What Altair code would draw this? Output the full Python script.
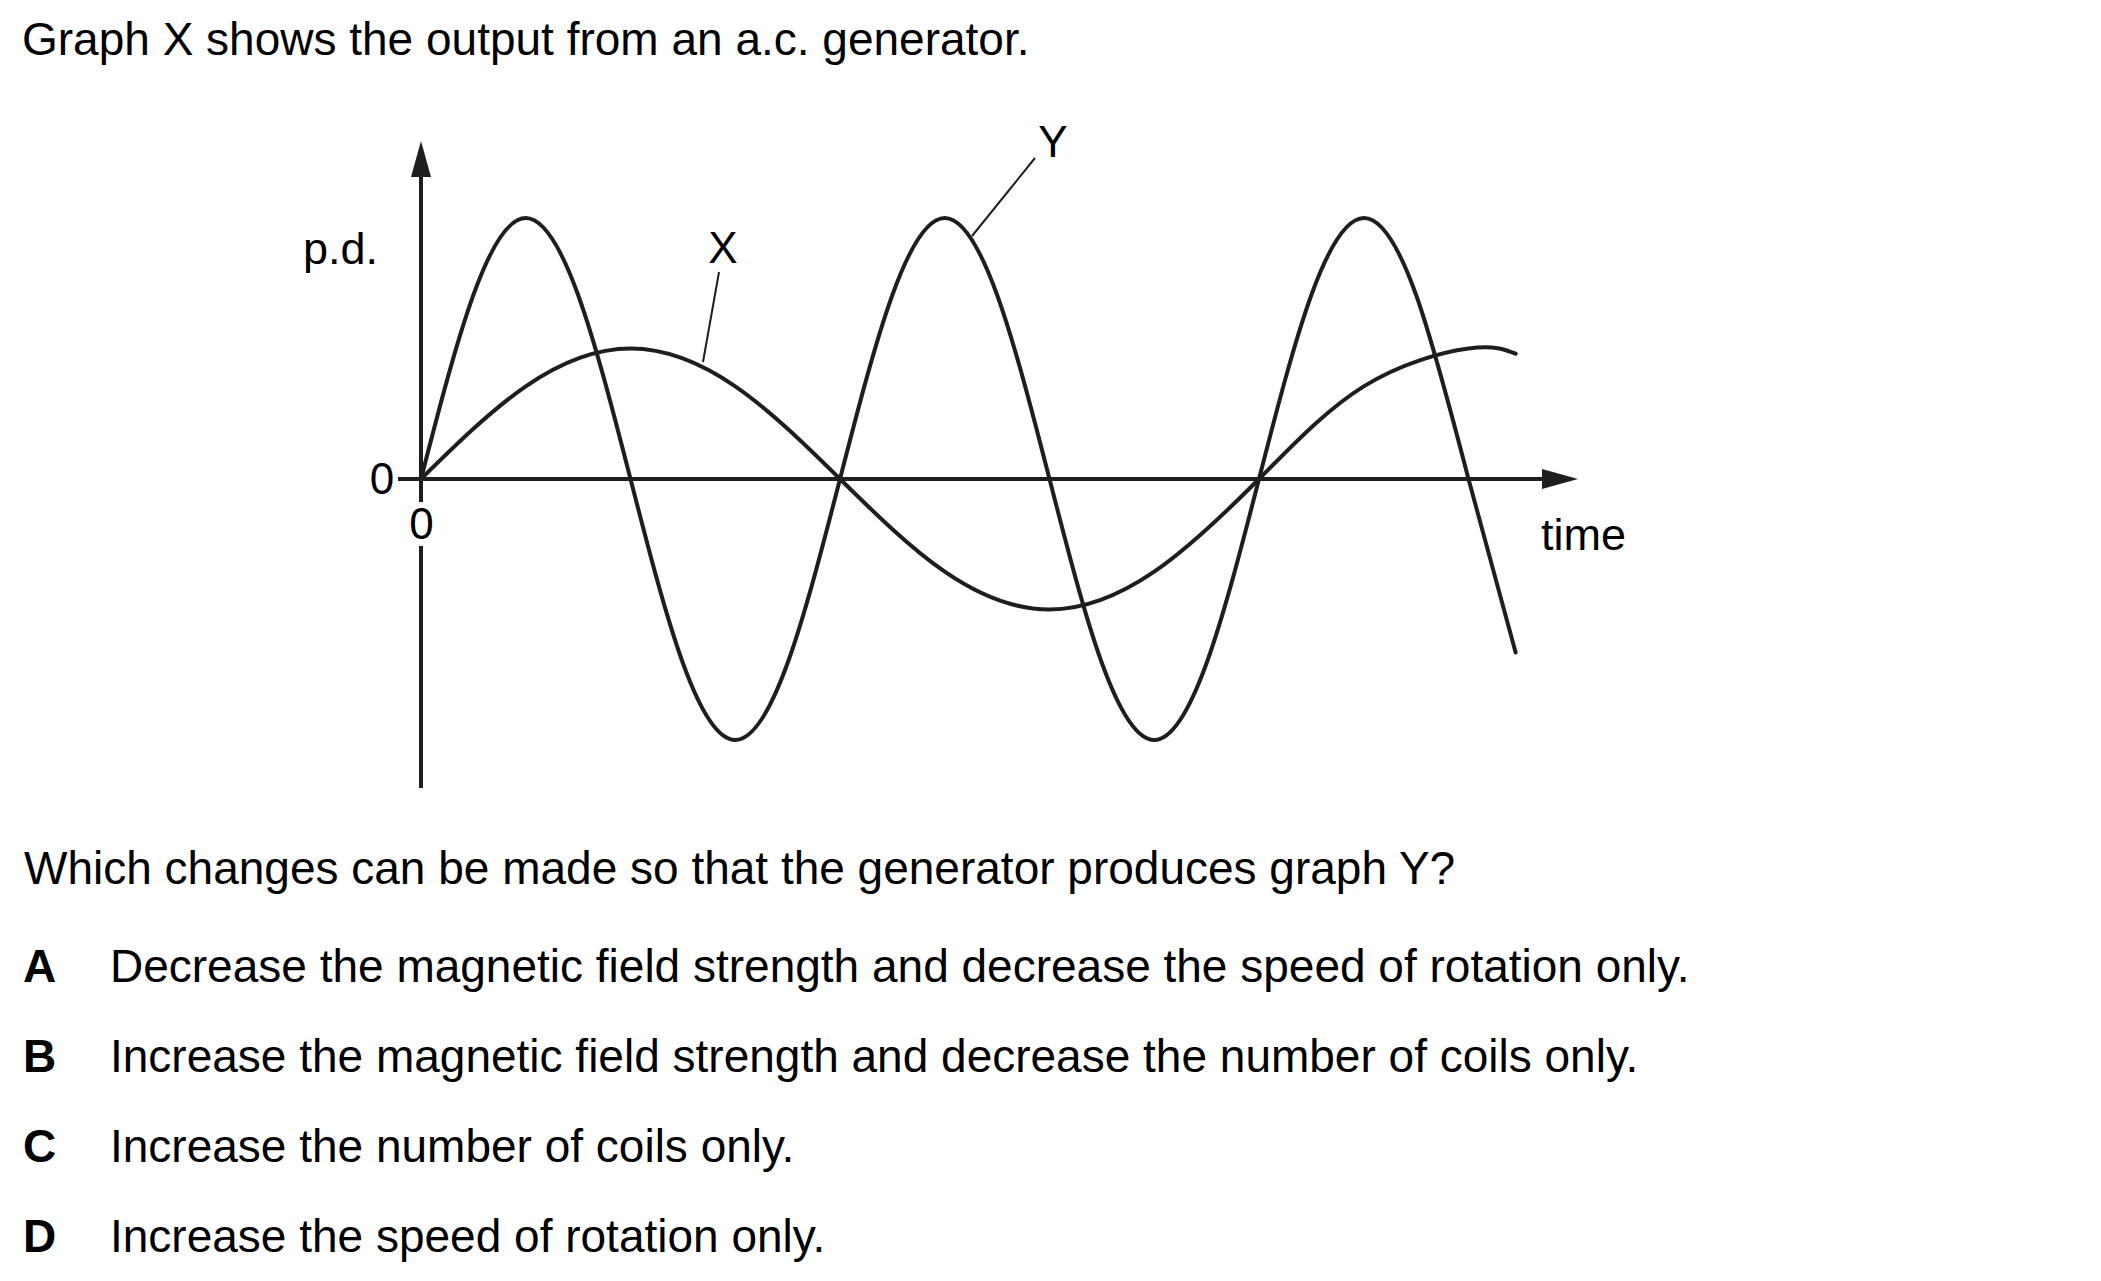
import altair as alt
import pandas as pd

# ---------------- data ----------------
# time in arbitrary units (graph X period = 8), p.d. in arbitrary units (X amplitude = 1)
x_time = [0, 1, 2, 3, 4, 5, 6, 7, 8, 9, 10, 10.45]
x_pd = [0, 0.71, 1.0, 0.71, 0, -0.71, -1.0, -0.71, 0, 0.71, 1.0, 0.96]

y_time = [0, 0.5, 1, 1.5, 2, 2.5, 3, 3.5, 4, 4.5, 5, 5.5, 6, 6.5, 7, 7.5,
          8, 8.5, 9, 9.5, 10, 10.45]
y_pd = [0, 1.41, 2.0, 1.41, 0, -1.41, -2.0, -1.41,
        0, 1.41, 2.0, 1.41, 0, -1.41, -2.0, -1.41,
        0, 1.41, 2.0, 1.41, 0, -1.33]

title_text = "Graph X shows the output from an a.c. generator."
question_text = "Which changes can be made so that the generator produces graph Y?"
option_letters = ["A", "B", "C", "D"]
option_texts = [
    "Decrease the magnetic field strength and decrease the speed of rotation only.",
    "Increase the magnetic field strength and decrease the number of coils only.",
    "Increase the number of coils only.",
    "Increase the speed of rotation only.",
]
graph_labels = ["X", "Y"]
axis_labels = ["p.d.", "time", "0", "0"]

# ---------------- layout ----------------
FONT = "Liberation Sans, Arial, Helvetica, sans-serif"
INK = "#1e1e1e"
W, H = 2085, 1262
OX, OY = 421, 479          # page pixel of the origin
PX_T, PX_V = 104.75, 130.5  # pixels per unit


def tx(px):
    return (px - OX) / PX_T


def vy(py):
    return (OY - py) / PX_V


xs = alt.Scale(domain=[tx(8), tx(8 + W)], nice=False, zero=False)
ys = alt.Scale(domain=[vy(8 + H), vy(8)], nice=False, zero=False)


def X(f):
    return alt.X(f, type="quantitative", scale=xs, axis=None)


def Y(f):
    return alt.Y(f, type="quantitative", scale=ys, axis=None)


curves = pd.concat([
    pd.DataFrame({"t": x_time, "v": x_pd, "s": "X"}),
    pd.DataFrame({"t": y_time, "v": y_pd, "s": "Y"}),
])

curve_layer = alt.Chart(curves).mark_line(
    interpolate="natural", strokeWidth=4, color=INK, strokeCap="round"
).encode(x=X("t"), y=Y("v"), detail="s:N")

# axes (segments)
axis_segs = pd.DataFrame({
    "x1": [tx(398), tx(421), tx(421)],
    "x2": [tx(1544), tx(421), tx(421)],
    "y1": [0, vy(175), vy(546)],
    "y2": [0, vy(502), vy(788)],
})
axis_layer = alt.Chart(axis_segs).mark_rule(strokeWidth=4, color=INK).encode(
    x=X("x1"), x2="x2", y=Y("y1"), y2="y2")

leader_segs = pd.DataFrame({
    "x1": [tx(719), tx(1035)],
    "x2": [tx(703), tx(972)],
    "y1": [vy(272), vy(158)],
    "y2": [vy(362), vy(236)],
})
leader_layer = alt.Chart(leader_segs).mark_rule(strokeWidth=2, color=INK).encode(
    x=X("x1"), x2="x2", y=Y("y1"), y2="y2")

up_arrow = alt.Chart(pd.DataFrame({"t": [tx(421)], "v": [vy(159)]})).mark_point(
    shape="M0,-1L0.556,1L-0.556,1Z", size=1296, filled=True, opacity=1,
    color=INK, strokeWidth=0
).encode(x=X("t"), y=Y("v"))

right_arrow = alt.Chart(pd.DataFrame({"t": [tx(1560)], "v": [0]})).mark_point(
    shape="M1,0L-1,0.556L-1,-0.556Z", size=1296, filled=True, opacity=1,
    color=INK, strokeWidth=0
).encode(x=X("t"), y=Y("v"))

# graph labels
center_lbl = pd.DataFrame({
    "t": [tx(723), tx(1053), tx(382), tx(421.5)],
    "v": [vy(263), vy(157), vy(494), vy(539)],
    "txt": [graph_labels[0], graph_labels[1], axis_labels[2], axis_labels[3]],
})
center_layer = alt.Chart(center_lbl).mark_text(
    align="center", baseline="alphabetic", fontSize=44, font=FONT, color="black"
).encode(x=X("t"), y=Y("v"), text="txt:N")

left_lbl = pd.DataFrame({
    "t": [tx(303), tx(1541)],
    "v": [vy(264), vy(550)],
    "txt": [axis_labels[0], axis_labels[1]],
})
left_layer = alt.Chart(left_lbl).mark_text(
    align="left", baseline="alphabetic", fontSize=45, font=FONT, color="black"
).encode(x=X("t"), y=Y("v"), text="txt:N")


def line_text(s, x, y, bold=False):
    return alt.Chart(pd.DataFrame({"txt": [s]})).mark_text(
        align="left", baseline="alphabetic", fontSize=46, font=FONT,
        color="black", fontWeight="bold" if bold else "normal"
    ).encode(x=alt.value(x), y=alt.value(y), text="txt:N")


text_layers = [line_text(title_text, 14, 47), line_text(question_text, 16, 876)]
for i, (letter, txt) in enumerate(zip(option_letters, option_texts)):
    base = 974 + 90 * i
    text_layers.append(line_text(letter, 15, base, bold=True))
    text_layers.append(line_text(txt, 102, base))

chart = alt.layer(
    axis_layer, leader_layer, up_arrow, right_arrow, curve_layer,
    center_layer, left_layer, *text_layers
).properties(
    width=W, height=H, padding=0, autosize=alt.AutoSizeParams(type="none"),
    background="white"
).configure_view(stroke=None)

chart.save("out.html", embed_options={"renderer": "svg", "actions": False})
